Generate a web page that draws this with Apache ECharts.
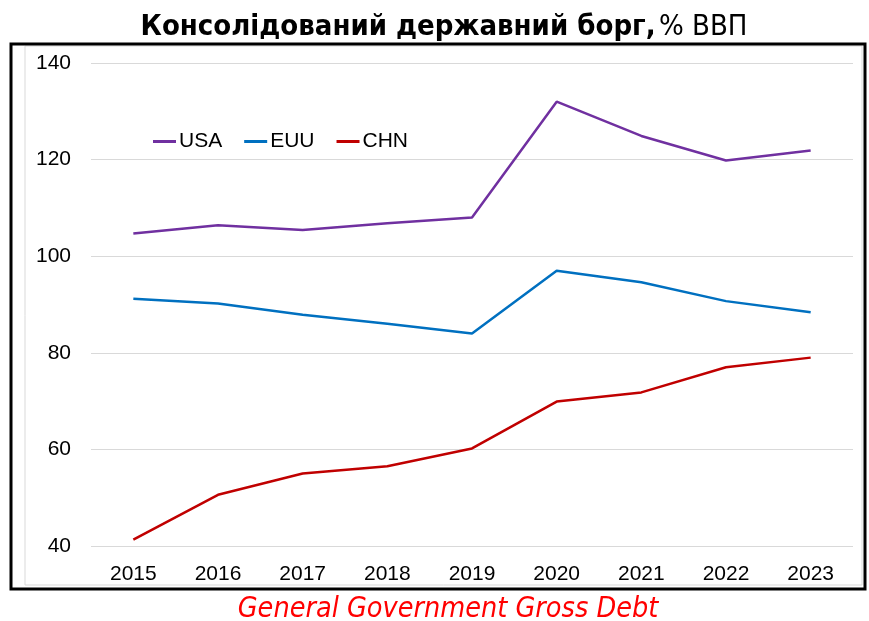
<!DOCTYPE html>
<html><head><meta charset="utf-8">
<script src="https://cdn.jsdelivr.net/npm/echarts@6/dist/echarts.min.js"></script>
<style>html,body{margin:0;padding:0;background:#fff}#c{width:869px;height:621px}</style>
</head><body><div id="c"></div>
<script>
const categories = ['2015','2016','2017','2018','2019','2020','2021','2022','2023'];
const usa = [104.7, 106.4, 105.4, 106.8, 108.0, 132.0, 124.9, 119.8, 121.9];
const euu = [91.2, 90.2, 87.9, 86.0, 84.0, 97.0, 94.6, 90.7, 88.4];
const chn = [41.3, 50.6, 55.0, 56.5, 60.2, 69.9, 71.8, 77.0, 79.0];
const yTicks = [40, 60, 80, 100, 120, 140];
const titleText = '{b|Консолідований державний борг,} {n|% ВВП}';
const subtitleText = 'General Government Gross Debt';

const chart = echarts.init(document.getElementById('c'));
const lineStyle = (c) => ({ color: c, width: 2.5 });
chart.setOption({
  animation: false,
  graphic: [
    { type: 'rect', shape: { x: 25, y: 46, width: 837, height: 539 }, style: { fill: 'none', stroke: '#D9D9D9', lineWidth: 1 }, z: 0 },
    { type: 'rect', shape: { x: 11, y: 44, width: 854, height: 545 }, style: { fill: 'none', stroke: '#000', lineWidth: 3 }, z: 0 },
    { type: 'text', x: 444, y: 27, style: {
        text: titleText, align: 'center', verticalAlign: 'middle',
        rich: {
          b: { fontFamily: 'DejaVu Sans Condensed, DejaVu Sans', fontWeight: 'bold', fontSize: 29, fill: '#000' },
          n: { fontFamily: 'DejaVu Sans Condensed, DejaVu Sans', fontWeight: 'normal', fontSize: 29, fill: '#000' }
        } } },
    { type: 'text', x: 448, y: 610, style: {
        text: subtitleText, align: 'center', verticalAlign: 'middle',
        fontFamily: 'DejaVu Sans Condensed, DejaVu Sans', fontStyle: 'italic', fontSize: 28.5, fill: '#FF0000' } }
  ],
  legend: {
    left: 148, top: 126, itemGap: 22, itemWidth: 23, itemHeight: 3,
    icon: 'rect',
    textStyle: { fontFamily: 'Liberation Sans, Arial', fontSize: 21, color: '#000', padding: [0,0,0,-2] },
    data: ['USA', 'EUU', 'CHN']
  },
  grid: { left: 91, right: 16, top: 63, bottom: 75 },
  xAxis: {
    type: 'category', data: categories, boundaryGap: true,
    axisLine: { show: false }, axisTick: { show: false },
    axisLabel: { fontFamily: 'Liberation Sans, Arial', fontSize: 21, color: '#000', margin: 18 }
  },
  yAxis: {
    type: 'value', min: 40, max: 140, interval: 20,
    axisLine: { show: false }, axisTick: { show: false },
    axisLabel: { fontFamily: 'Liberation Sans, Arial', fontSize: 21, color: '#000', margin: 20,
      formatter: (v) => yTicks.includes(v) ? String(v) : '' },
    splitLine: { lineStyle: { color: '#D9D9D9', width: 1 } }
  },
  series: [
    { name: 'USA', type: 'line', data: usa, symbol: 'none', lineStyle: lineStyle('#7030A0'), itemStyle: { color: '#7030A0' } },
    { name: 'EUU', type: 'line', data: euu, symbol: 'none', lineStyle: lineStyle('#0070C0'), itemStyle: { color: '#0070C0' } },
    { name: 'CHN', type: 'line', data: chn, symbol: 'none', lineStyle: lineStyle('#C00000'), itemStyle: { color: '#C00000' } }
  ]
});
</script></body></html>
